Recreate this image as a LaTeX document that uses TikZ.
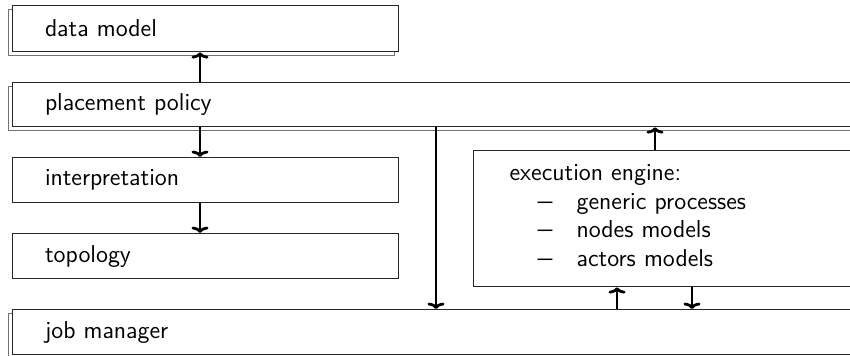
\documentclass[tikz,border=0pt]{standalone}
\usepackage{graphicx}
\usetikzlibrary{arrows.meta,shadows,calc}
\begin{document}
\begin{tikzpicture}[x=0.5pt,y=-0.5pt,
  box/.style={rectangle, draw=black!85, line width=0.6pt, fill=white,
    anchor=north west, inner xsep=16.2pt, inner ysep=0pt, align=left,
    font=\fontsize{12.2}{14.3}\selectfont\sffamily},
  shadowed/.style={copy shadow={shadow xshift=-2pt, shadow yshift=-2pt,
    draw=black!55, fill=white, line width=0.6pt}},
  conn/.style={line width=1.4pt, -{To[length=3.2pt,width=8.5pt]}}]
\clip (0,0) rectangle (850,356);
\node[box, shadowed, text width=160.6pt, minimum height=23pt] (dm) at (12,5) {data model};
\node[box, shadowed, text width=420pt, minimum height=22pt] (pp) at (12,82) {placement policy};
\node[box, text width=160.6pt, minimum height=22.5pt] (ip) at (12,157) {interpretation};
\node[box, text width=160.6pt, minimum height=22.5pt] (tp) at (12,233) {topology};
\node[box, shadowed, text width=420pt, minimum height=22.5pt] (jm) at (12,309) {job manager};
\node[box, inner xsep=18pt, text width=180pt, minimum height=68pt] (ee) at (473,150)
  {execution engine:\\
   \hspace*{14pt}\makebox[19.5pt][l]{\scalebox{1.25}[1]{--}}generic processes\\
   \hspace*{14pt}\makebox[19.5pt][l]{\scalebox{1.25}[1]{--}}nodes models\\
   \hspace*{14pt}\makebox[19.5pt][l]{\scalebox{1.25}[1]{--}}actors models\rule[-3pt]{0pt}{1pt}};
\coordinate (c1) at (200,0);
\coordinate (c2) at (436,0);
\coordinate (c3) at (655,0);
\coordinate (c4) at (617,0);
\coordinate (c5) at (692,0);
\draw[conn] (pp.north -| c1) -- (dm.south -| c1);
\draw[conn] (pp.south -| c1) -- (ip.north -| c1);
\draw[conn] (ip.south -| c1) -- (tp.north -| c1);
\draw[conn] (pp.south -| c2) -- (jm.north -| c2);
\draw[conn] (ee.north -| c3) -- (pp.south -| c3);
\draw[conn] (jm.north -| c4) -- (ee.south -| c4);
\draw[conn] (ee.south -| c5) -- (jm.north -| c5);
\end{tikzpicture}
\end{document}
